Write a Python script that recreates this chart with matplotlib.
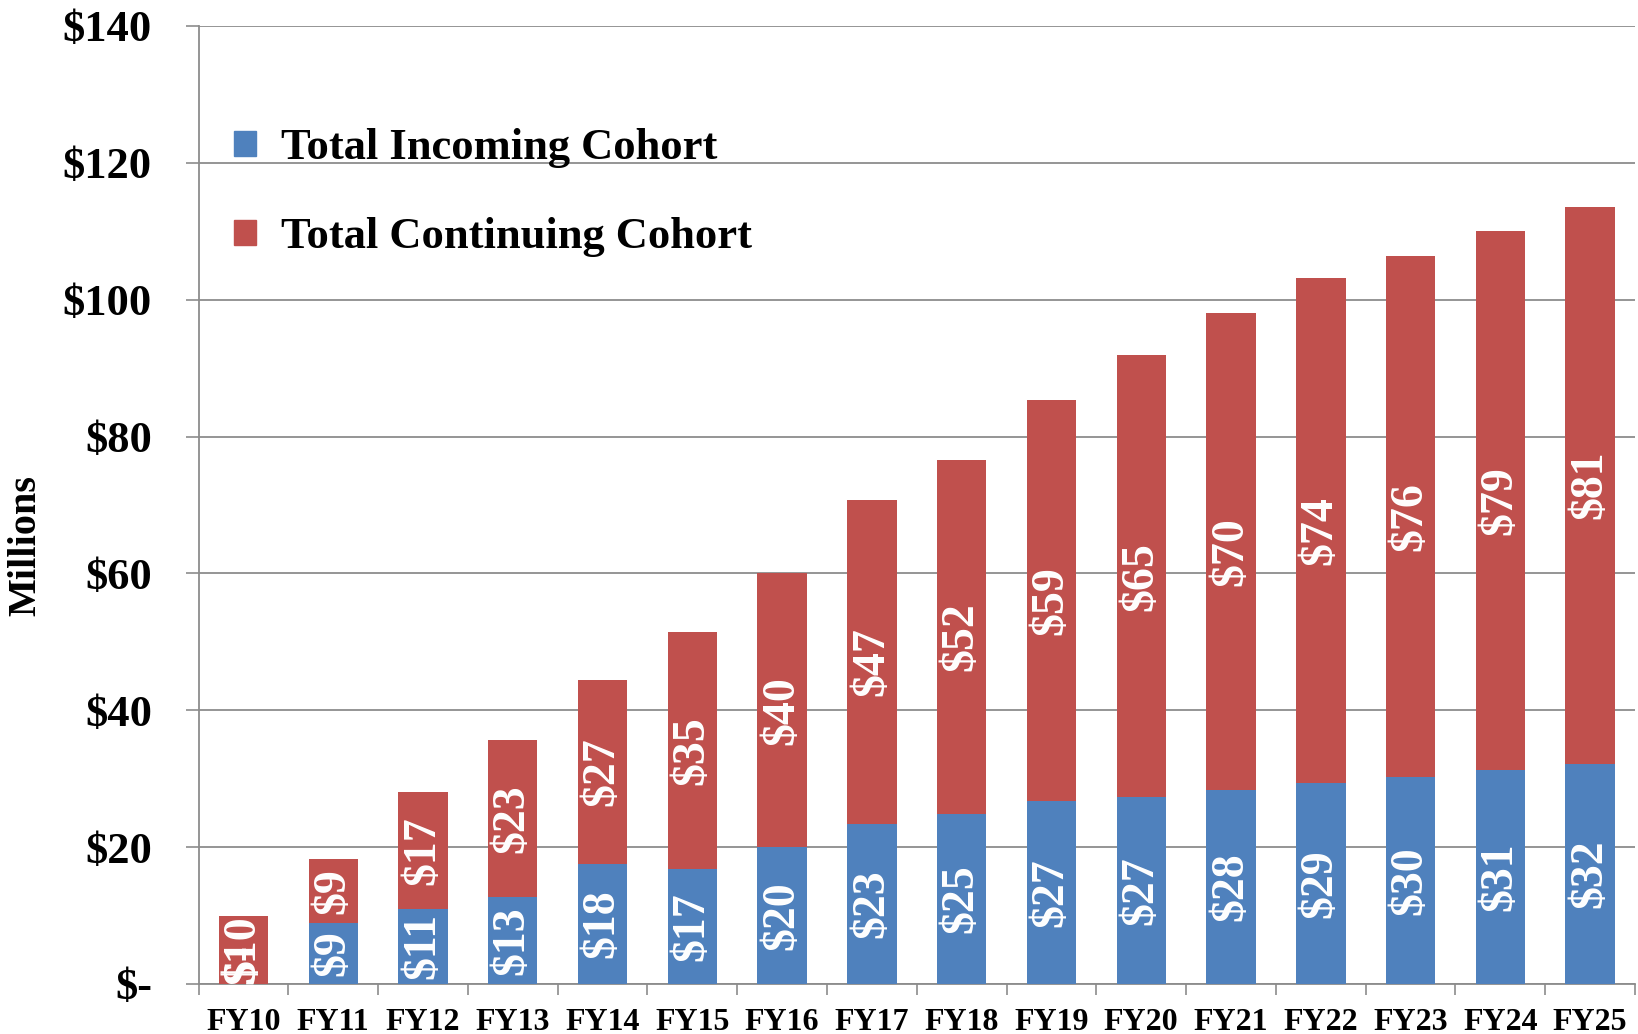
import matplotlib.pyplot as plt
from matplotlib.patches import Patch
import numpy as np

years = ['FY10', 'FY11', 'FY12', 'FY13', 'FY14', 'FY15', 'FY16', 'FY17',
         'FY18', 'FY19', 'FY20', 'FY21', 'FY22', 'FY23', 'FY24', 'FY25']
incoming = [0, 8.9, 11.0, 12.7, 17.6, 16.8, 20.0, 23.4,
            24.9, 26.7, 27.3, 28.4, 29.3, 30.2, 31.3, 32.2]
continuing = [10.0, 9.3, 17.1, 22.9, 26.8, 34.6, 40.0, 47.3,
              51.6, 58.6, 64.6, 69.6, 73.8, 76.2, 78.8, 81.4]

BLUE = '#4F81BD'
RED = '#C0504D'
GRID = '#8c8c8c'

plt.rcParams['font.family'] = ['Liberation Serif', 'DejaVu Serif']
plt.rcParams['font.weight'] = 'bold'

fig = plt.figure(figsize=(16.38, 10.34), dpi=100)
ax = fig.add_axes([0.1212, 0.0484, 0.877, 0.9265])

x = np.arange(len(years))
w = 0.55
inc = np.array(incoming)
con = np.array(continuing)
ax.bar(x, inc, w, color=BLUE, zorder=3)
ax.bar(x, con, w, bottom=inc, color=RED, zorder=3)

def fmt(v):
    return '$-' if round(v) == 0 else f'${round(v)}'

for i in range(len(years)):
    if inc[i] > 0:
        ax.text(x[i], inc[i] / 2, fmt(inc[i]), rotation=90, ha='center', va='center',
                color='white', fontsize=33, fontweight='bold', zorder=4)
    else:
        ax.text(x[i], 0.3, fmt(inc[i]), rotation=90, ha='center', va='bottom',
                color='white', fontsize=33, fontweight='bold', zorder=4)
    ax.text(x[i], inc[i] + con[i] / 2, fmt(con[i]), rotation=90, ha='center', va='center',
            color='white', fontsize=33, fontweight='bold', zorder=4)

ax.set_xlim(-0.5, len(years) - 0.5)
ax.set_ylim(0, 140)
yt = np.arange(0, 141, 20)
ax.set_yticks(yt)
ax.set_yticklabels(['$-'] + [f'${v}' for v in yt[1:]], fontsize=32, fontweight='bold')
ax.tick_params(axis='y', direction='out', length=9.5, width=1.2, color=GRID, pad=24)
ax.yaxis.grid(True, color=GRID, linewidth=1.3, zorder=0)

ax.set_xticks(x)
ax.set_xticklabels(years, fontsize=23, fontweight='bold')
ax.set_xticks(np.arange(-0.5, len(years), 1), minor=True)
ax.tick_params(axis='x', which='major', length=0, pad=17)
ax.tick_params(axis='x', which='minor', direction='out', length=8, width=1.2, color=GRID)

for s in ['top', 'right']:
    ax.spines[s].set_visible(False)
for s in ['left', 'bottom']:
    ax.spines[s].set_color(GRID)
    ax.spines[s].set_linewidth(1.3)

fig.text(26 / 1638, 1 - 545 / 1034, 'Millions', rotation=90, ha='center', va='center',
         fontsize=29, fontweight='bold')

handles = [Patch(color=BLUE), Patch(color=RED)]
ax.legend(handles, ['Total Incoming Cohort', 'Total Continuing Cohort'],
          loc='upper left', bbox_to_anchor=(-0.003, 0.935), frameon=False,
          prop={'size': 32, 'weight': 'bold'}, handlelength=0.5, handleheight=0.5,
          handletextpad=0.55, labelspacing=1.1)

fig.savefig('out.png', dpi=100)
